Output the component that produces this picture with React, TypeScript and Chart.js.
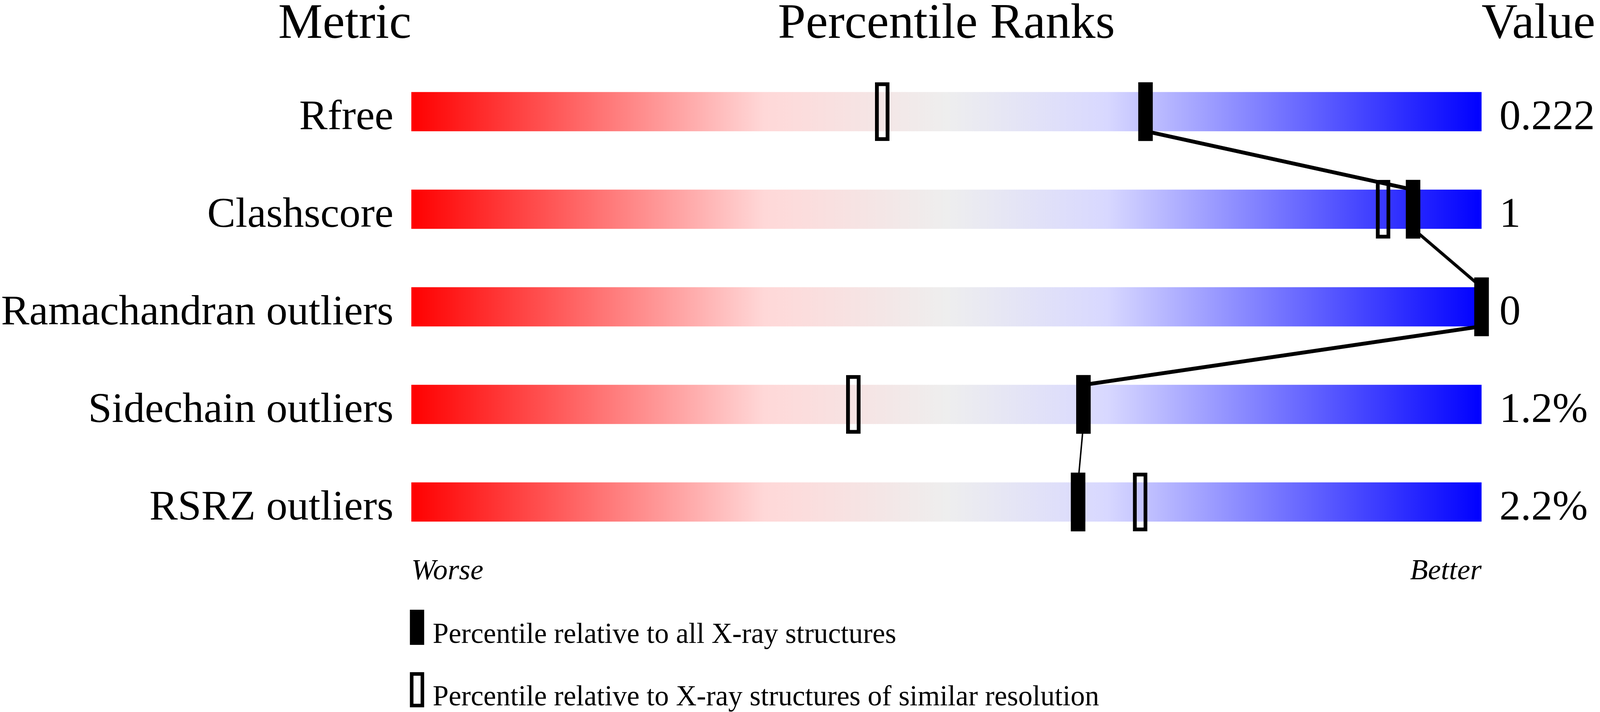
import {useEffect, useRef} from "react";
import {Chart, registerables} from "chart.js";

Chart.register(...registerables);

// rows, top to bottom
const metrics = ["Rfree", "Clashscore", "Ramachandran outliers", "Sidechain outliers", "RSRZ outliers"];
const values = ["0.222", "1", "0", "1.2%", "2.2%"];
// percentile vs all X-ray structures (filled marker)
const pctAll = [68.6, 93.6, 100, 62.8, 62.3];
// percentile vs structures of similar resolution (open marker)
const pctSimilar = [44.0, 90.8, 100, 41.3, 68.1];
const scaleEnds = ["Worse", "Better"];
const headers = ["Metric", "Percentile Ranks", "Value"];
const legendLabels = [
  "Percentile relative to all X-ray structures",
  "Percentile relative to X-ray structures of similar resolution",
];

const FONT = "'Liberation Serif', 'Times New Roman', serif";
const MARKER_HALF = 0.6667; // half width of a marker, in percentile units
// sizes below are given for a 4485 x 1824 page, then scaled to the real one
const REF_W = 4485;
const REF_H = 1824;

// red -> grey -> blue slider
const gradientStops: [number, string][] = [
  [0, "rgb(255,0,0)"],
  [0.33, "rgb(255,216,216)"],
  [0.5, "rgb(238,238,238)"],
  [0.65, "rgb(216,216,255)"],
  [1, "rgb(0,0,255)"],
];

// header texts, connector line, legend
const makeDecorations = (u: number, v: number) => ({
  id: "decorations",
  afterDatasetDraw(chart: any, args: any) {
    if (args.index !== 0) return;
    const {ctx, scales} = chart;
    const bars = chart.getDatasetMeta(0).data;
    // stroke is thicker vertically than horizontally, like the original
    const s = (10 * v) / (4 * u);
    ctx.save();
    ctx.scale(1, s);
    ctx.strokeStyle = "#000";
    ctx.lineWidth = 4 * u;
    ctx.beginPath();
    for (let i = 0; i < pctAll.length - 1; i++) {
      const x0 = scales.x.getPixelForValue(pctAll[i]);
      const y0 = scales.y.getPixelForValue(i) + bars[i].height / 2;
      const x1 = scales.x.getPixelForValue(pctAll[i + 1]);
      const y1 = scales.y.getPixelForValue(i + 1) - bars[i + 1].height / 2;
      ctx.moveTo(x0, y0 / s);
      ctx.lineTo(x1, y1 / s);
    }
    ctx.stroke();
    ctx.restore();
  },
  afterDraw(chart: any) {
    const {ctx, chartArea, height} = chart;
    ctx.save();
    ctx.fillStyle = "#000";
    ctx.strokeStyle = "#000";
    ctx.textBaseline = "alphabetic";
    ctx.font = `${140 * u}px ${FONT}`;
    const hy = chartArea.top - 64 * v;
    ctx.textAlign = "right";
    ctx.fillText(headers[0], chartArea.left, hy);
    ctx.textAlign = "center";
    ctx.fillText(headers[1], (chartArea.left + chartArea.right) / 2, hy);
    ctx.textAlign = "left";
    ctx.fillText(headers[2], chartArea.right, hy);

    // legend
    ctx.font = `${80 * u}px ${FONT}`;
    const mx = chartArea.left - 4 * u;
    const rows = [height - 262 * v, height - 102 * v];
    rows.forEach((top, i) => {
      if (i === 0) {
        ctx.fillRect(mx, top, 40 * u, 90 * v);
      } else {
        ctx.lineWidth = 10 * u;
        ctx.strokeRect(mx + 5 * u, top + 5 * u, 30 * u, 90 * v - 10 * u);
      }
      ctx.fillText(legendLabels[i], mx + 64 * u, top + 85 * v);
    });
    ctx.restore();
  },
});

const App = () => {
  const boxRef = useRef<HTMLDivElement | null>(null);
  const canvasRef = useRef<HTMLCanvasElement | null>(null);

  useEffect(() => {
    if (!canvasRef.current || !boxRef.current) return;
    const u = boxRef.current.clientWidth / REF_W;
    const v = boxRef.current.clientHeight / REF_H;
    const tickFont = 82 * u;
    const chart = new Chart(canvasRef.current, {
      type: "bar",
      data: {
        labels: metrics,
        datasets: [
          {
            label: "scale",
            data: metrics.map(() => [0, 100]) as any,
            backgroundColor: (c: any) => {
              const {ctx, chartArea, scales} = c.chart;
              if (!chartArea) return "transparent";
              const g = ctx.createLinearGradient(scales.x.getPixelForValue(0), 0, scales.x.getPixelForValue(100), 0);
              gradientStops.forEach(([o, col]) => g.addColorStop(o, col));
              return g;
            },
            barThickness: 100 * v,
            grouped: false,
            order: 3,
            borderWidth: 0,
          },
          {
            label: legendLabels[1],
            data: pctSimilar.map((p) => [p - MARKER_HALF, p + MARKER_HALF]) as any,
            backgroundColor: "rgba(0,0,0,0)",
            borderColor: "#000",
            borderWidth: 10 * u,
            borderSkipped: false,
            barThickness: 150 * v,
            grouped: false,
            order: 2,
            clip: false as any,
          },
          {
            label: legendLabels[0],
            data: pctAll.map((p) => [p - MARKER_HALF, p + MARKER_HALF]) as any,
            backgroundColor: "#000",
            borderWidth: 0,
            barThickness: 150 * v,
            grouped: false,
            order: 1,
            clip: false as any,
          },
        ],
      },
      options: {
        indexAxis: "y",
        responsive: true,
        maintainAspectRatio: false,
        animation: false,
        layout: {padding: {top: 161 * v, left: 0, right: 0, bottom: 0}},
        plugins: {
          legend: {display: false},
          tooltip: {enabled: false},
        },
        scales: {
          x: {
            type: "linear",
            min: 0,
            max: 100,
            grid: {display: false, drawTicks: false},
            border: {display: false},
            ticks: {
              stepSize: 100,
              align: "inner",
              // baseline of the end labels sits 76px below the bars
              padding: Math.max(0, 76 * v - 0.9 * tickFont),
              color: "#000",
              font: {family: FONT, size: tickFont, style: "italic"},
              callback: (val: any) => (val === 0 ? scaleEnds[0] : val === 100 ? scaleEnds[1] : ""),
            },
            afterFit: (s: any) => {
              s.height = 413 * v;
            },
          },
          y: {
            type: "category",
            position: "left",
            offset: true,
            grid: {display: false, drawTicks: false},
            border: {display: false},
            ticks: {
              padding: 50 * u,
              labelOffset: 50 * v - 0.305 * 119 * u,
              color: "#000",
              font: {family: FONT, size: 119 * u},
            },
            afterFit: (s: any) => {
              s.width = 1153 * u;
            },
          },
          y2: {
            type: "category",
            position: "right",
            labels: values,
            offset: true,
            grid: {display: false, drawTicks: false},
            border: {display: false},
            ticks: {
              padding: 50 * u,
              labelOffset: 50 * v - 0.305 * 119 * u,
              color: "#000",
              font: {family: FONT, size: 119 * u},
            },
            afterFit: (s: any) => {
              s.width = 332 * u;
            },
          },
        },
      },
      plugins: [makeDecorations(u, v)],
    });
    return () => chart.destroy();
  }, []);

  return (
    <div
      ref={boxRef}
      style={{position: "fixed", left: 0, top: 0, width: "100vw", height: "100vh", background: "#fff"}}
    >
      <canvas ref={canvasRef}></canvas>
    </div>
  );
};

export default App;
